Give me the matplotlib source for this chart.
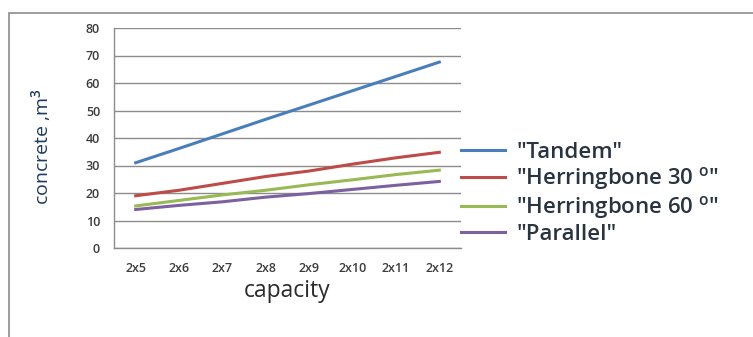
import matplotlib.pyplot as plt
from matplotlib.patches import Rectangle

capacity = ['2x5', '2x6', '2x7', '2x8', '2x9', '2x10', '2x11', '2x12']
tandem = [31, 36.2, 41.5, 46.8, 52, 57.2, 62.4, 67.6]
herring30 = [19, 21, 23.5, 26, 28, 30.5, 32.8, 34.8]
herring60 = [15.3, 17.3, 19.3, 21, 23, 24.8, 26.7, 28.3]
parallel = [14, 15.5, 16.8, 18.5, 19.8, 21.3, 22.8, 24.2]

series = [
    ('"Tandem"', tandem, '#4a7ebb'),
    ('"Herringbone 30 $^{\\mathrm{o}}$"', herring30, '#be4b48'),
    ('"Herringbone 60 $^{\\mathrm{o}}$"', herring60, '#98b954'),
    ('"Parallel"', parallel, '#7d60a0'),
]

plt.rcParams['font.family'] = ['Open Sans', 'DejaVu Sans']
plt.rcParams['mathtext.fontset'] = 'custom'
plt.rcParams['mathtext.rm'] = 'Open Sans:semibold'

fig = plt.figure(figsize=(7.53, 3.37), dpi=100)
# outer chart border
fig.patches.append(Rectangle((9 / 753, -0.1), 1.2, 1.1 - 13 / 337,
                             transform=fig.transFigure, fill=False,
                             edgecolor='#8c8c8c', linewidth=1.2))

ax = fig.add_axes([114 / 753, 1 - 248 / 337, 347 / 753, 220 / 337])
x = range(len(capacity))
for label, vals, color in series:
    ax.plot(x, vals, color=color, linewidth=2.2, label=label)

ax.set_xlim(-0.5, len(capacity) - 0.5)
ax.set_ylim(0, 80)
ax.set_yticks(range(0, 81, 10))
ax.set_xticks(list(x))
ax.set_xticklabels(capacity)
ax.grid(axis='y', color='#8c8c8c', linewidth=1)
ax.set_axisbelow(True)
for s in ['top', 'right']:
    ax.spines[s].set_visible(False)
for s in ['left', 'bottom']:
    ax.spines[s].set_color('#8c8c8c')
    ax.spines[s].set_linewidth(1)
ax.tick_params(axis='both', length=0, labelsize=9, labelcolor='#3c3c3c')
ax.tick_params(axis='y', pad=10)
ax.tick_params(axis='x', pad=10)
for t in ax.get_xticklabels() + ax.get_yticklabels():
    t.set_fontweight('semibold')

ax.set_xlabel('capacity', fontsize=16.5, color='#2a2a2a', labelpad=3)
ax.set_ylabel('concrete ,m$^3$', fontsize=14, color='#1f3a5f')
ax.yaxis.set_label_coords(-0.175, 0.46)

fig.legend(loc='upper left', bbox_to_anchor=(452 / 753, 1 - 133 / 337),
           frameon=False, handlelength=2.0, handletextpad=0.5,
           labelspacing=0.1, labelcolor='#2a3440', borderaxespad=0,
           prop={'size': 16, 'weight': 'semibold'})

fig.savefig('out.png', dpi=100)
